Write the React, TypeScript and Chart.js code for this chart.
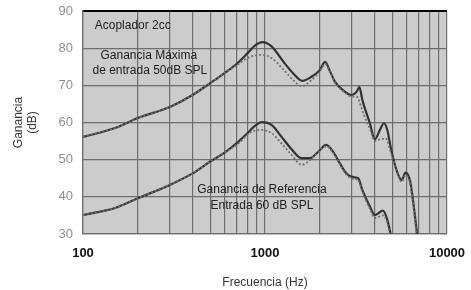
import React, { useEffect, useRef } from "react";
import { Chart, registerables } from "chart.js";

Chart.register(...registerables);

const xTickValues = [100, 200, 300, 400, 500, 600, 700, 800, 900, 1000, 2000, 3000, 4000, 5000, 6000, 7000, 8000, 9000, 10000];
const xTickLabels = ["100", "1000", "10000"];
const yTickValues = [30, 40, 50, 60, 70, 80, 90];

// Ganancia Máxima (entrada 50 dB SPL)
const maxFreq = [100, 150, 200, 300, 400, 500, 600, 700, 800, 880, 970, 1090, 1260, 1430, 1600, 1800, 2000, 2140, 2280, 2420, 2680, 2990, 3190, 3300, 3430, 3770, 4010, 4280, 4500, 4700, 4940, 5280, 5630, 5920, 6250, 6500, 6850];
const maxSolid = [56.1, 58.5, 61.2, 64.2, 67.4, 70.6, 73.3, 75.8, 78.6, 80.7, 81.6, 80.4, 76.4, 73.2, 71.2, 72.3, 74.1, 76.3, 73.7, 71.0, 68.7, 67.4, 68.3, 69.5, 66.0, 59.8, 55.5, 58.0, 59.8, 58.0, 52.6, 47.2, 44.5, 46.5, 44.5, 39.2, 30];
const maxDotFreq = [100, 150, 200, 300, 400, 500, 600, 700, 830, 960, 1090, 1260, 1430, 1590, 1800, 2000, 2140, 2280, 2420, 2680, 2990, 3200, 3370, 3520, 3770, 4010, 4300, 4620, 4870, 5280, 5630, 5920, 6250, 6500, 6800];
const maxDotted = [56.1, 58.5, 61.2, 64.2, 67.4, 70.6, 73.3, 75.4, 77.7, 78.2, 77.3, 74.3, 71.4, 69.8, 71.4, 73.7, 75.8, 73.5, 70.8, 68.5, 67.0, 66.9, 64.3, 61.6, 58.3, 55.0, 55.5, 55.7, 52.6, 47.0, 44.0, 45.8, 44.0, 38.5, 30];

// Ganancia de Referencia (entrada 60 dB SPL)
const refFreq = [100, 150, 200, 300, 400, 500, 600, 720, 800, 870, 960, 1090, 1230, 1400, 1590, 1770, 1960, 2170, 2370, 2580, 2800, 3060, 3250, 3430, 3770, 4010, 4450, 4700, 4900];
const refSolid = [35.1, 37.0, 39.6, 43.2, 46.3, 49.5, 51.9, 55.0, 57.1, 58.9, 60.1, 59.3, 56.2, 52.8, 50.4, 50.4, 52.1, 54.0, 52.1, 49.0, 46.3, 45.3, 45.0, 41.8, 37.4, 35.1, 36.3, 33.8, 30];
const refDotFreq = [100, 150, 200, 300, 400, 500, 600, 720, 830, 960, 1090, 1230, 1400, 1590, 1770, 1960, 2170, 2370, 2580, 2800, 3060, 3250, 3430, 3770, 4010, 4450, 4700, 4850];
const refDotted = [35.1, 37.0, 39.6, 43.2, 46.3, 49.5, 51.9, 54.5, 57.3, 58.0, 57.1, 54.4, 51.3, 48.6, 49.9, 52.0, 53.6, 51.8, 48.7, 46.0, 44.8, 44.5, 41.3, 36.8, 34.3, 35.0, 33.0, 30];

// text notes placed in data coordinates (freq, dB)
const noteTexts = ["Acoplador 2cc", "Ganancia Máxima", "de entrada 50dB SPL", "Ganancia de Referencia", "Entrada 60 dB SPL"];
const noteFreqs = [116, 230, 233, 962, 962];
const noteDbs = [86.0, 77.9, 73.9, 41.8, 37.5];
const noteAligns: CanvasTextAlign[] = ["left", "center", "center", "center", "center"];

const FONT = "'Liberation Sans', Arial, Helvetica, sans-serif";

const pts = (xs: number[], ys: number[]) => xs.map((x, i) => ({ x, y: ys[i] }));

const zeroPad = (scale: any) => {
  scale.paddingTop = 0;
  scale.paddingBottom = 0;
  scale.paddingLeft = 0;
  scale.paddingRight = 0;
};

export default function App() {
  const ref = useRef<HTMLCanvasElement | null>(null);

  useEffect(() => {
    if (!ref.current) return;
    const bgPlugin = {
      id: "plotBg",
      beforeDraw(chart: any) {
        const { ctx, chartArea } = chart;
        ctx.save();
        ctx.fillStyle = "#cccccc";
        ctx.fillRect(chartArea.left, chartArea.top, chartArea.right - chartArea.left, chartArea.bottom - chartArea.top);
        ctx.restore();
      },
    };
    const notesPlugin = {
      id: "notes",
      afterDraw(chart: any) {
        const { ctx } = chart;
        const xs = chart.scales.x;
        const ys = chart.scales.y;
        ctx.save();
        ctx.font = `12px ${FONT}`;
        ctx.fillStyle = "#222222";
        ctx.textBaseline = "middle";
        noteTexts.forEach((t, i) => {
          ctx.textAlign = noteAligns[i];
          ctx.fillText(t, xs.getPixelForValue(noteFreqs[i]), ys.getPixelForValue(noteDbs[i]));
        });
        ctx.restore();
      },
    };

    const chart = new Chart(ref.current, {
      type: "line",
      data: {
        datasets: [
          { data: pts(maxDotFreq, maxDotted), borderColor: "#707070", borderWidth: 1.8, borderDash: [2, 2], pointRadius: 0, tension: 0.35, cubicInterpolationMode: "monotone" },
          { data: pts(refDotFreq, refDotted), borderColor: "#707070", borderWidth: 1.8, borderDash: [2, 2], pointRadius: 0, tension: 0.35, cubicInterpolationMode: "monotone" },
          { data: pts(maxFreq, maxSolid), borderColor: "#333333", borderWidth: 2.2, pointRadius: 0, tension: 0.35, cubicInterpolationMode: "monotone" },
          { data: pts(refFreq, refSolid), borderColor: "#333333", borderWidth: 2.2, pointRadius: 0, tension: 0.35, cubicInterpolationMode: "monotone" },
        ] as any,
      },
      options: {
        animation: false,
        responsive: false,
        maintainAspectRatio: false,
        layout: { padding: { top: 11, right: 24, left: 0, bottom: 0 } },
        plugins: { legend: { display: false }, tooltip: { enabled: false } },
        scales: {
          x: {
            type: "logarithmic",
            min: 100,
            max: 10000,
            afterBuildTicks(scale: any) {
              scale.ticks = xTickValues.map((v) => ({ value: v }));
            },
            afterFit(scale: any) {
              scale.height = 56;
              zeroPad(scale);
            },
            ticks: {
              autoSkip: false,
              maxRotation: 0,
              padding: 12,
              color: "#111111",
              font: { family: FONT, size: 13, weight: "bold" },
              callback: (v: any) => {
                const s = String(v);
                return xTickLabels.includes(s) ? s : "";
              },
            },
            grid: { color: "#6e6e6e", lineWidth: 1.2, drawTicks: false },
            border: { color: "#6e6e6e", width: 1.2 },
            title: {
              display: true,
              text: "Frecuencia (Hz)",
              color: "#333333",
              font: { family: FONT, size: 12 },
              padding: { top: 0, bottom: 0 },
            },
          },
          y: {
            min: 30,
            max: 90,
            afterBuildTicks(scale: any) {
              scale.ticks = yTickValues.map((v) => ({ value: v }));
            },
            afterFit(scale: any) {
              scale.width = 83;
              zeroPad(scale);
            },
            ticks: {
              padding: 10,
              color: "#8f8f8f",
              font: { family: FONT, size: 13 },
            },
            grid: {
              drawTicks: false,
              color: (c: any) => (c.tick && c.tick.value === 90 ? "#000000" : "#6e6e6e"),
              lineWidth: (c: any) => (c.tick && c.tick.value === 90 ? 2 : 1.2),
            },
            border: { color: "#6e6e6e", width: 1.2 },
            title: {
              display: true,
              text: ["Ganancia", "(dB)"],
              color: "#333333",
              font: { family: FONT, size: 12 },
              padding: { top: 11, bottom: 0 },
            },
          },
        },
      } as any,
      plugins: [bgPlugin, notesPlugin],
    });
    return () => chart.destroy();
  }, []);

  return (
    <div style={{ position: "absolute", left: 0, top: 0, width: 471, height: 290, background: "#ffffff" }}>
      <canvas ref={ref} width={471} height={290} style={{ display: "block", width: 471, height: 290 }} />
    </div>
  );
}
